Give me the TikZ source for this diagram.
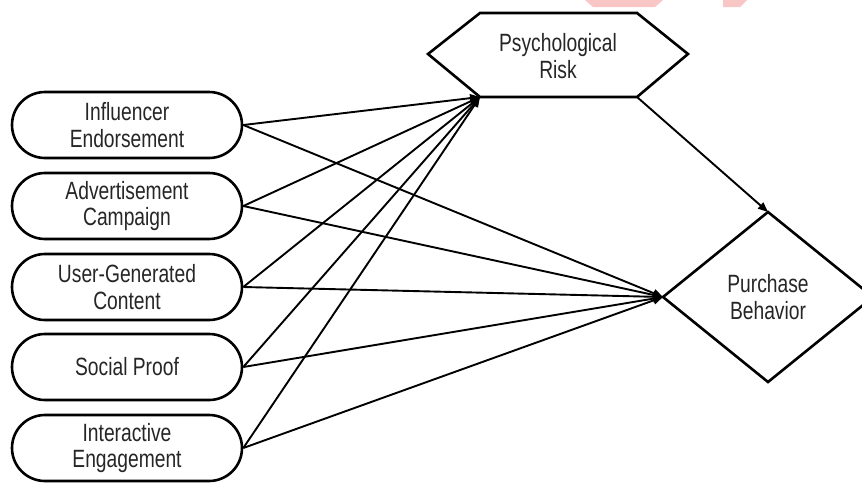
\documentclass[tikz,border=0pt]{standalone}
\usepackage{fontspec}
\setmainfont[FakeStretch=0.77]{Liberation Sans}
\usetikzlibrary{arrows.meta}
\definecolor{txt}{HTML}{262626}
\definecolor{wm}{HTML}{F9C6C6}
\begin{document}
\begin{tikzpicture}[x=1pt,y=-1pt,
  lbl/.style={font=\fontsize{25}{26.5}\selectfont, text=txt, align=center, inner sep=0pt},
  stad/.style={draw, line width=2.6pt, rounded corners=33pt, minimum width=230pt, minimum height=66pt, lbl},
  shapeline/.style={line width=2.6pt, line join=miter},
  conn/.style={line width=1.9pt, -{Triangle[length=10pt,width=8pt]}}]
\useasboundingbox (0,0) rectangle (862,482);
% watermark remnant
\fill[wm] (585,0) -- (663,0) -- (655,7) -- (593,7) -- cycle;
\fill[wm] (723,0) -- (747,0) -- (740,7) -- (723,7) -- cycle;
% left nodes
\node[stad] (n1) at (127,125) {Influencer\\Endorsement};
\node[stad] (n2) at (127,206) {Advertisement\\Campaign};
\node[stad] (n3) at (127,287) {User-Generated\\Content};
\node[stad] (n4) at (127,367) {Social Proof};
\node[stad] (n5) at (127,448) {Interactive\\Engagement};
% hexagon
\coordinate (hTL) at (480,13);
\coordinate (hTR) at (637,13);
\coordinate (hR) at (688,54);
\coordinate (hBR) at (637,97);
\coordinate (hBL) at (480,97);
\coordinate (hL) at (428,54);
\draw[shapeline] (hTL) -- (hTR) -- (hR) -- (hBR) -- (hBL) -- (hL) -- cycle;
\node[lbl] (risk) at (558,56) {Psychological\\Risk};
% diamond
\coordinate (dT) at (768,212);
\coordinate (dR) at (873,297);
\coordinate (dB) at (768,382);
\coordinate (dL) at (663,297);
\draw[shapeline] (dT) -- (dR) -- (dB) -- (dL) -- cycle;
\node[lbl] (pb) at (768,297) {Purchase\\Behavior};
% connectors
\foreach \n in {n1,n2,n3,n4,n5}{
  \draw[conn] (\n.east) -- (hBL);
  \draw[conn] (\n.east) -- (dL);
}
\draw[conn] (hBR) -- (dT);
\end{tikzpicture}
\end{document}
